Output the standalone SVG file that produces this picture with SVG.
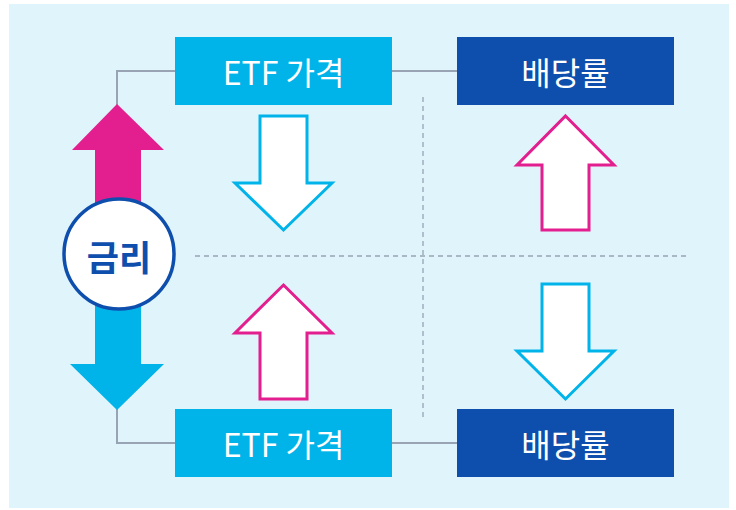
<svg xmlns="http://www.w3.org/2000/svg" width="736" height="510" viewBox="0 0 736 510">
<style>
.lbl{font-family:"Noto Sans CJK KR","Noto Sans",sans-serif;font-size:32px;fill:#fff;text-anchor:middle;dominant-baseline:central}
.etf{fill:#00b3e9}
.div{fill:#0e4fae}
.conn{fill:none;stroke:#98a4b4;stroke-width:2}
.dash{fill:none;stroke:#98a4b4;stroke-width:1.3;stroke-dasharray:5 4}
.oc{fill:#fff;stroke:#00b3e9;stroke-width:3}
.op{fill:#fff;stroke:#e31f8f;stroke-width:3}
</style>
<rect x="9" y="4" width="720" height="504" fill="#e0f4fb"/>
<g id="connectors">
<path class="conn" d="M175 71H117V106"/>
<path class="conn" d="M117 408V443H175"/>
<path class="conn" d="M392 71H457"/>
<path class="conn" d="M392 443H457"/>
<path class="dash" d="M195 256H690"/>
<path class="dash" d="M423 97V419"/>
</g>
<g id="rate-up">
<path d="M117 104L164 150H141V215H95V150H72Z" fill="#e31f8f"/>
</g>
<g id="rate-down">
<path d="M95 295H141V364H164L117 410L70 364H95Z" fill="#00b3e9"/>
</g>
<g id="rate">
<circle cx="119" cy="254" r="55" fill="#fff" stroke="#0e4fae" stroke-width="3.5"/>
<text x="119" y="255" font-family="'Noto Sans CJK KR','Noto Sans',sans-serif" font-size="35" font-weight="bold" fill="#0e4fae" text-anchor="middle" dominant-baseline="central">금리</text>
</g>
<g id="etf-top">
<rect class="etf" x="175" y="37" width="217" height="68"/>
<text class="lbl" x="283.5" y="71">ETF 가격</text>
</g>
<g id="div-top">
<rect class="div" x="457" y="37" width="217" height="68"/>
<text class="lbl" x="565.5" y="71">배당률</text>
</g>
<g id="etf-bottom">
<rect class="etf" x="175" y="409" width="217" height="68"/>
<text class="lbl" x="283.5" y="443">ETF 가격</text>
</g>
<g id="div-bottom">
<rect class="div" x="457" y="409" width="217" height="68"/>
<text class="lbl" x="565.5" y="443">배당률</text>
</g>
<g id="etf-down-arrow">
<path class="oc" d="M260 116H307V183H332L283.5 230L235 183H260Z"/>
</g>
<g id="etf-up-arrow">
<path class="op" d="M283.5 285L332 333H307V399H260V333H235Z"/>
</g>
<g id="div-up-arrow">
<path class="op" d="M565.5 116L614 165H589V230H542V165H517Z"/>
</g>
<g id="div-down-arrow">
<path class="oc" d="M542 284H589V351H614L565.5 399L517 351H542Z"/>
</g>
</svg>
